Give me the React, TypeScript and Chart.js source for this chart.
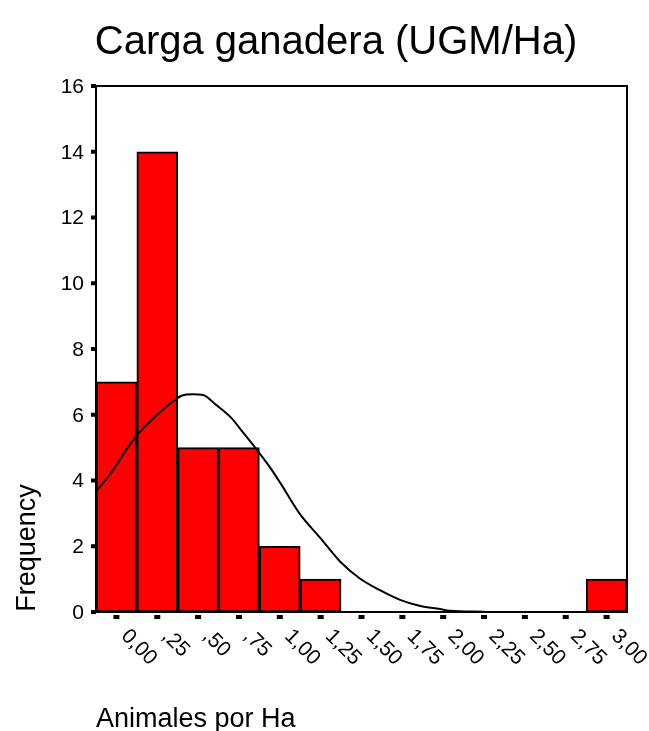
import React, { useEffect, useRef } from "react";
import { Chart, registerables } from "chart.js";

Chart.register(...registerables);

const TITLE = "Carga ganadera (UGM/Ha)";
const X_TITLE = "Animales por Ha";
const Y_TITLE = "Frequency";

const BIN_CENTERS = [0, 0.25, 0.5, 0.75, 1.0, 1.25, 1.5, 1.75, 2.0, 2.25, 2.5, 2.75, 3.0];
const BIN_LABELS = ["0,00", ",25", ",50", ",75", "1,00", "1,25", "1,50", "1,75", "2,00", "2,25", "2,50", "2,75", "3,00"];
const FREQUENCIES = [7, 14, 5, 5, 2, 1, 0, 0, 0, 0, 0, 0, 1];
const Y_TICKS = [0, 2, 4, 6, 8, 10, 12, 14, 16];
const X_MIN = -0.125;
const X_MAX = 3.125;

const CURVE_X = [-0.125, -0.06, 0.0, 0.06, 0.13, 0.25, 0.35, 0.4, 0.47, 0.53, 0.61, 0.7, 0.78, 0.86, 0.94, 1.0, 1.12, 1.25, 1.37, 1.49, 1.61, 1.74, 1.86, 1.98, 2.04, 2.25];
const CURVE_Y = [3.68, 4.05, 4.47, 4.93, 5.4, 6.0, 6.42, 6.58, 6.62, 6.6, 6.3, 5.92, 5.43, 4.93, 4.4, 3.95, 3.0, 2.24, 1.53, 1.02, 0.67, 0.36, 0.18, 0.09, 0.04, 0.01];

const FONT = '"Liberation Sans", Arial, sans-serif';

const decorPlugin = {
  id: "decor",
  afterDraw(chart: any) {
    const ctx = chart.ctx as CanvasRenderingContext2D;
    const area = chart.chartArea;
    const xs = chart.scales.x;
    const ys = chart.scales.y;
    ctx.save();
    ctx.strokeStyle = "#000";
    ctx.lineWidth = 2;
    ctx.strokeRect(area.left, area.top, area.right - area.left, area.bottom - area.top);

    ctx.fillStyle = "#000";
    ctx.font = `21px ${FONT}`;
    ctx.textAlign = "right";
    ctx.textBaseline = "middle";
    for (const t of Y_TICKS) {
      const py = ys.getPixelForValue(t);
      ctx.fillRect(area.left - 5, py - 2, 5, 4);
      ctx.fillText(String(t), area.left - 12, py + 1);
    }
    BIN_LABELS.forEach((lab, i) => {
      const px = xs.getPixelForValue(BIN_CENTERS[i]);
      ctx.fillRect(px - 3, area.bottom + 3, 6, 4);
      ctx.save();
      ctx.translate(px + 8, area.bottom + 21);
      ctx.rotate(Math.PI / 4);
      ctx.textAlign = "left";
      ctx.textBaseline = "middle";
      ctx.fillText(lab, 0, 0);
      ctx.restore();
    });

    ctx.font = `40px ${FONT}`;
    ctx.textAlign = "center";
    ctx.textBaseline = "alphabetic";
    ctx.fillText(TITLE, 336, 54);

    ctx.font = `27px ${FONT}`;
    ctx.textAlign = "left";
    ctx.fillText(X_TITLE, area.left, 727);

    ctx.save();
    ctx.translate(35, 548);
    ctx.rotate(-Math.PI / 2);
    ctx.textAlign = "center";
    ctx.textBaseline = "alphabetic";
    ctx.fillText(Y_TITLE, 0, 0);
    ctx.restore();

    ctx.restore();
  },
};

export default function App() {
  const ref = useRef<HTMLCanvasElement | null>(null);
  useEffect(() => {
    if (!ref.current) return;
    const chart = new Chart(ref.current, {
      type: "bar",
      data: {
        datasets: [
          {
            type: "line",
            data: CURVE_X.map((x, i) => ({ x, y: CURVE_Y[i] })),
            borderColor: "#000",
            borderWidth: 2,
            pointRadius: 0,
            cubicInterpolationMode: "monotone",
            fill: false,
            order: 1,
          } as any,
          {
            type: "bar",
            data: BIN_CENTERS.map((x, i) => ({ x, y: FREQUENCIES[i] })),
            backgroundColor: "#ff0000",
            borderColor: "#000",
            borderWidth: 2,
            borderSkipped: false,
            barPercentage: 1,
            categoryPercentage: 1,
            grouped: false,
            order: 2,
          } as any,
        ],
      },
      options: {
        responsive: false,
        animation: false,
        devicePixelRatio: 1,
        layout: { padding: { left: 96, top: 86, right: 22, bottom: 119 } },
        plugins: { legend: { display: false }, tooltip: { enabled: false }, title: { display: false } },
        scales: {
          x: {
            type: "linear",
            display: false,
            offset: false,
            min: X_MIN,
            max: X_MAX,
            afterBuildTicks: (axis: any) => {
              axis.ticks = BIN_CENTERS.map((v) => ({ value: v }));
            },
          },
          y: { type: "linear", display: false, min: 0, max: 16 },
        },
      } as any,
      plugins: [decorPlugin],
    });
    return () => chart.destroy();
  }, []);
  return (
    <div style={{ position: "absolute", left: 0, top: 0, width: 649, height: 731, background: "#fff" }}>
      <canvas ref={ref} width={649} height={731} style={{ display: "block" }} />
    </div>
  );
}
